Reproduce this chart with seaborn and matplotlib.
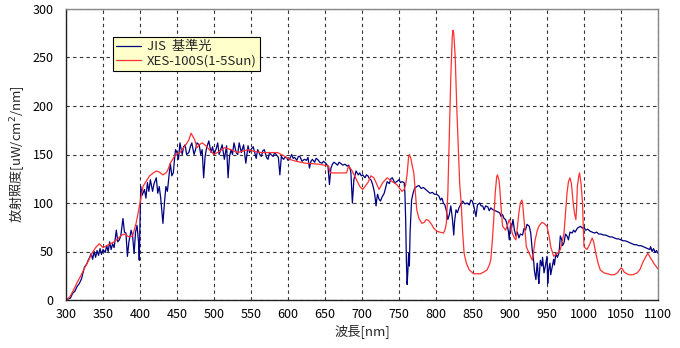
import matplotlib
matplotlib.use("Agg")
import matplotlib.pyplot as plt
import seaborn as sns
import pandas as pd

# ---------------- data ----------------
jis_label = "JIS  基準光"
xes_label = "XES-100S(1-5Sun)"

jis_wl = [300,303,306,309,312,315,318,321,325,328,330,332,334,336,338,340,342,344,346,348,
          350,353,355,357,359,361,363,365,368,370,372,374,377,379,381,383,385,388,390,392,
          394,396,398,399,400,401,403,406,408,410,412,414,417,419,422,424,426,428,431,433,
          435,437,440,441,443,445,447,448,450,452,454,457,459,461,463,466,468,470,473,475,
          477,480,482,484,486,488,490,493,496,498,500,503,505,507,509,511,514,517,519,521,
          523,525,527,530,532,534,537,540,543,546,548,550,553,555,557,559,562,564,566,568,
          571,573,575,577,580,582,585,587,589,591,594,596,598,600,602,605,607,609,612,614,
          616,619,622,625,627,629,631,633,636,638,640,643,646,648,651,654,656,658,660,662,
          664,667,669,671,674,677,680,682,684,685,686,687,688,689,692,695,697,699,701,704,
          706,708,710,712,714,716,717,719,720,721,723,725,727,730,732,734,737,739,741,744,
          747,750,752,754,757,758,759,760,761,762,763,764,765,767,769,771,774,777,780,783,
          786,789,792,795,798,801,804,806,808,810,812,814,816,818,820,822,824,825,827,829,
          831,833,836,839,842,845,847,849,851,854,856,859,861,863,865,867,870,872,874,877,
          880,883,886,888,890,892,894,896,898,899,900,901,902,904,906,908,910,912,914,917,
          919,921,923,926,928,930,932,933,935,936,937,938,939,940,941,943,944,946,948,950,
          951,952,954,955,957,959,960,962,964,966,967,968,970,971,973,975,977,979,981,984,
          986,988,991,993,995,998,1000,1002,1005,1008,1011,1014,1017,1020,1023,1026,1029,1032,1035,1038,
          1041,1044,1047,1050,1053,1056,1059,1062,1065,1068,1071,1074,1077,1080,1083,1086,1089,1090,1092,1094,
          1096,1098,1100]
jis_val = [0,1,2,7,9,14,17,22,34,37,41,44,48,42,50,44,51,46,53,47,
           52,49,56,50,60,52,58,54,72,60,62,66,84,70,69,45,60,72,66,48,
           70,77,60,41,80,117,108,114,105,121,112,124,112,120,126,110,117,105,79,100,
           117,112,134,141,128,131,148,155,152,145,162,150,158,160,150,152,158,162,150,155,
           162,160,150,155,126,148,157,164,152,158,150,156,162,150,155,160,145,159,126,148,
           155,150,162,152,150,162,152,160,141,159,152,155,158,152,146,155,150,148,154,155,
           147,145,152,150,148,152,149,147,129,148,145,147,147,144,145,150,146,147,144,148,
           148,143,145,144,147,136,143,145,142,146,145,142,141,143,141,138,119,136,140,142,
           141,139,142,141,139,140,138,139,135,131,115,100,112,124,133,129,131,128,129,126,
           129,128,125,124,120,114,110,97,104,109,104,102,106,110,116,122,120,125,126,121,
           122,124,121,122,121,110,83,40,16,30,48,35,70,103,110,115,117,118,115,116,
           114,112,110,111,109,109,107,103,105,100,98,92,83,88,97,85,67,80,93,90,
           95,98,102,99,100,98,103,102,97,86,98,100,97,97,93,97,96,92,95,93,
           92,91,90,86,88,84,83,78,70,62,72,79,74,83,72,66,70,64,68,67,
           74,72,78,76,69,52,40,30,21,32,38,25,17,30,41,35,44,28,36,45,
           17,30,38,26,34,42,36,48,44,48,55,66,62,56,59,68,66,62,70,69,
           72,70,74,75,76,74,75,72,73,71,70,69,70,68,68,67,67,66,65,65,
           64,63,63,62,61,61,60,59,58,57,57,56,56,55,54,53,52,55,50,53,
           49,51,48]

xes_wl = [300,305,310,315,320,325,330,335,340,345,350,355,360,365,370,375,380,385,390,395,
          400,404,408,413,418,422,426,431,435,437,441,448,454,461,466,469,474,477,480,484,
          489,496,500,507,514,523,532,546,555,564,577,586,596,602,611,624,642,655,657,679,
          682,686,690,697,701,708,712,716,719,723,728,734,741,747,754,757,759,761,763,764,
          766,768,770,772,774,777,781,784,787,790,794,797,801,805,810,812,814,816,818,820,
          822,823,824,826,828,830,832,834,836,838,841,845,851,856,860,865,869,872,874,876,
          878,880,882,883,885,886,888,890,894,897,899,901,903,906,908,910,912,914,916,917,
          919,921,922,926,930,932,934,937,939,943,946,950,953,955,959,964,968,970,973,975,
          977,979,981,983,985,987,989,990,991,993,994,996,998,999,1000,1004,1008,1011,1013,1016,
          1019,1022,1027,1032,1037,1041,1045,1048,1050,1052,1054,1058,1061,1066,1072,1076,1079,1083,1086,1088,
          1090,1092,1095,1099,1100]
xes_val = [0,3,10,18,25,33,40,48,54,58,54,56,58,60,63,67,68,65,66,80,
           100,117,122,128,131,133,132,129,131,133,141,150,152,159,165,172,165,157,160,162,
           159,153,150,153,157,155,152,155,153,152,152,152,148,145,143,141,140,138,131,131,
           138,134,128,117,114,121,128,126,121,114,121,126,122,119,112,114,119,130,148,150,
           146,138,131,112,93,84,79,80,83,82,78,74,71,70,69,72,79,110,170,230,
           272,278,275,250,200,160,120,100,70,48,38,31,27,27,27,29,31,36,41,60,
           83,110,127,129,124,117,95,76,72,78,83,78,69,64,62,75,90,100,103,100,
           83,65,55,48,41,50,62,72,76,80,79,76,65,55,45,48,52,58,69,90,
           110,122,126,120,103,90,83,95,117,128,131,120,100,75,55,52,58,64,60,48,
           38,31,28,27,26,26,28,31,33,32,29,27,26,26,28,32,38,44,48,46,
           43,41,37,33,32]

assert len(jis_wl) == len(jis_val) and len(xes_wl) == len(xes_val)

x_ticks = list(range(300, 1101, 50))
y_ticks = list(range(0, 301, 50))
x_label = "波長[nm]"
y_label = "放射照度[uW/cm$^2$/nm]"

# ---------------- style ----------------
sns.set_theme(style="white")
plt.rcParams['font.family'] = ['Noto Sans CJK JP', 'DejaVu Sans']

df = pd.concat([
    pd.DataFrame({"wl": jis_wl, "val": jis_val, "series": jis_label}),
    pd.DataFrame({"wl": xes_wl, "val": xes_val, "series": xes_label}),
])

fig = plt.figure(figsize=(6.8, 3.48), dpi=100)
ax = fig.add_axes([66/680, 1-300/348, 592/680, 291/348])

sns.lineplot(data=df, x="wl", y="val", hue="series",
             palette={jis_label: "#000080", xes_label: "#ff3030"},
             hue_order=[jis_label, xes_label],
             estimator=None, sort=False, linewidth=0.9, ax=ax)

ax.set_xlim(300, 1100)
ax.set_ylim(0, 300)
ax.set_xticks(x_ticks)
ax.set_yticks(y_ticks)
ax.tick_params(axis='both', length=0, labelsize=9, colors="#000000")
ax.tick_params(axis='y', pad=9)
ax.tick_params(axis='x', pad=6)
ax.grid(True, color="#333333", linestyle=(0, (3, 3)), linewidth=0.8)
ax.set_axisbelow(True)
for s in ['left', 'bottom']:
    ax.spines[s].set_color("#222222")
    ax.spines[s].set_linewidth(1.0)
for s in ['top', 'right']:
    ax.spines[s].set_color("#888888")
    ax.spines[s].set_linewidth(1.0)

ax.set_xlabel(x_label, fontsize=9.5, labelpad=2)
ax.set_ylabel(y_label, fontsize=9.5, labelpad=5)

leg = ax.legend(loc='upper left', bbox_to_anchor=(47/592, 263/291), borderaxespad=0,
                fontsize=9.5, frameon=True, fancybox=False, facecolor="#ffffcc",
                edgecolor="#000000", framealpha=1, handlelength=1.9,
                borderpad=0.25, labelspacing=0.1, handletextpad=0.4)
leg.get_frame().set_linewidth(0.8)

fig.savefig("out.png", dpi=100)
